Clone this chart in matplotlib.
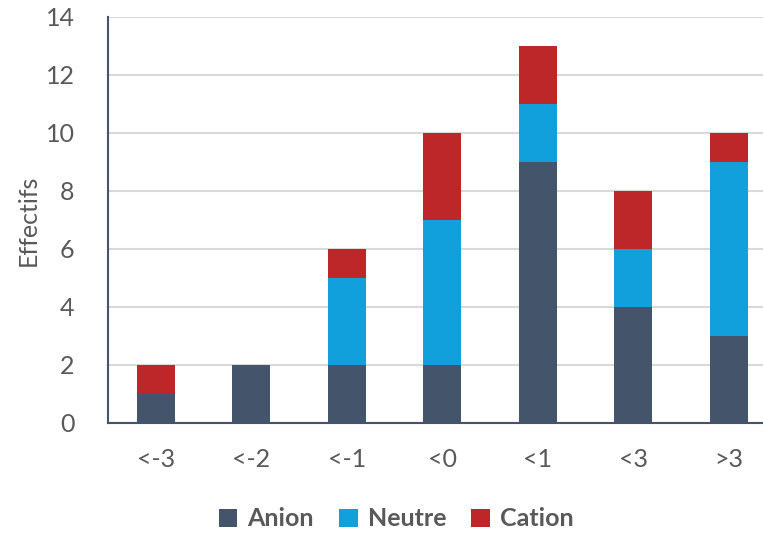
import matplotlib
matplotlib.use("Agg")
import matplotlib.pyplot as plt
import numpy as np

categories = ["<-3", "<-2", "<-1", "<0", "<1", "<3", ">3"]
anion = [1, 2, 2, 2, 9, 4, 3]
neutre = [0, 0, 3, 5, 2, 2, 6]
cation = [1, 0, 1, 3, 2, 2, 1]
series_names = ["Anion", "Neutre", "Cation"]
colors = ["#44546A", "#12A0DC", "#BE2729"]

plt.rcParams['font.family'] = ['Lato', 'DejaVu Sans']

fig = plt.figure(figsize=(7.63, 5.34), dpi=100)
ax = fig.add_axes([108/763, 111/534, 1 - 108/763, (423-17)/534])

x = np.arange(len(categories))
a = np.array(anion); n = np.array(neutre); c = np.array(cation)
w = 0.40
ax.bar(x, a, w, color=colors[0], label=series_names[0], zorder=3)
ax.bar(x, n, w, bottom=a, color=colors[1], label=series_names[1], zorder=3)
ax.bar(x, c, w, bottom=a+n, color=colors[2], label=series_names[2], zorder=3)

ax.set_xlim(-0.5, 6.357)
ax.set_ylim(0, 14)
ax.set_yticks(range(0, 15, 2))
ax.set_xticks(x)
ax.set_xticklabels(categories)
ax.grid(axis='y', color='#D9D9D9', linewidth=1.5, zorder=0)
for s in ['top', 'right']:
    ax.spines[s].set_visible(False)
for s in ['left', 'bottom']:
    ax.spines[s].set_color('#44546A')
    ax.spines[s].set_linewidth(1.5)
ax.tick_params(axis='both', length=0, labelsize=18, labelcolor='#595959')
ax.tick_params(axis='x', pad=18)
ax.tick_params(axis='y', pad=24)
ax.set_ylabel("Effectifs", fontsize=18, color='#595959', labelpad=4)

leg = fig.legend(loc='center', bbox_to_anchor=(396/763, 1 - 519/534), ncol=3, frameon=False,
                 prop={'size': 18, 'weight': 'bold'}, handlelength=0.75, handleheight=0.75,
                 handletextpad=0.4, columnspacing=1.0)
for t in leg.get_texts():
    t.set_color('#595959')

fig.savefig("out.png", dpi=100)
